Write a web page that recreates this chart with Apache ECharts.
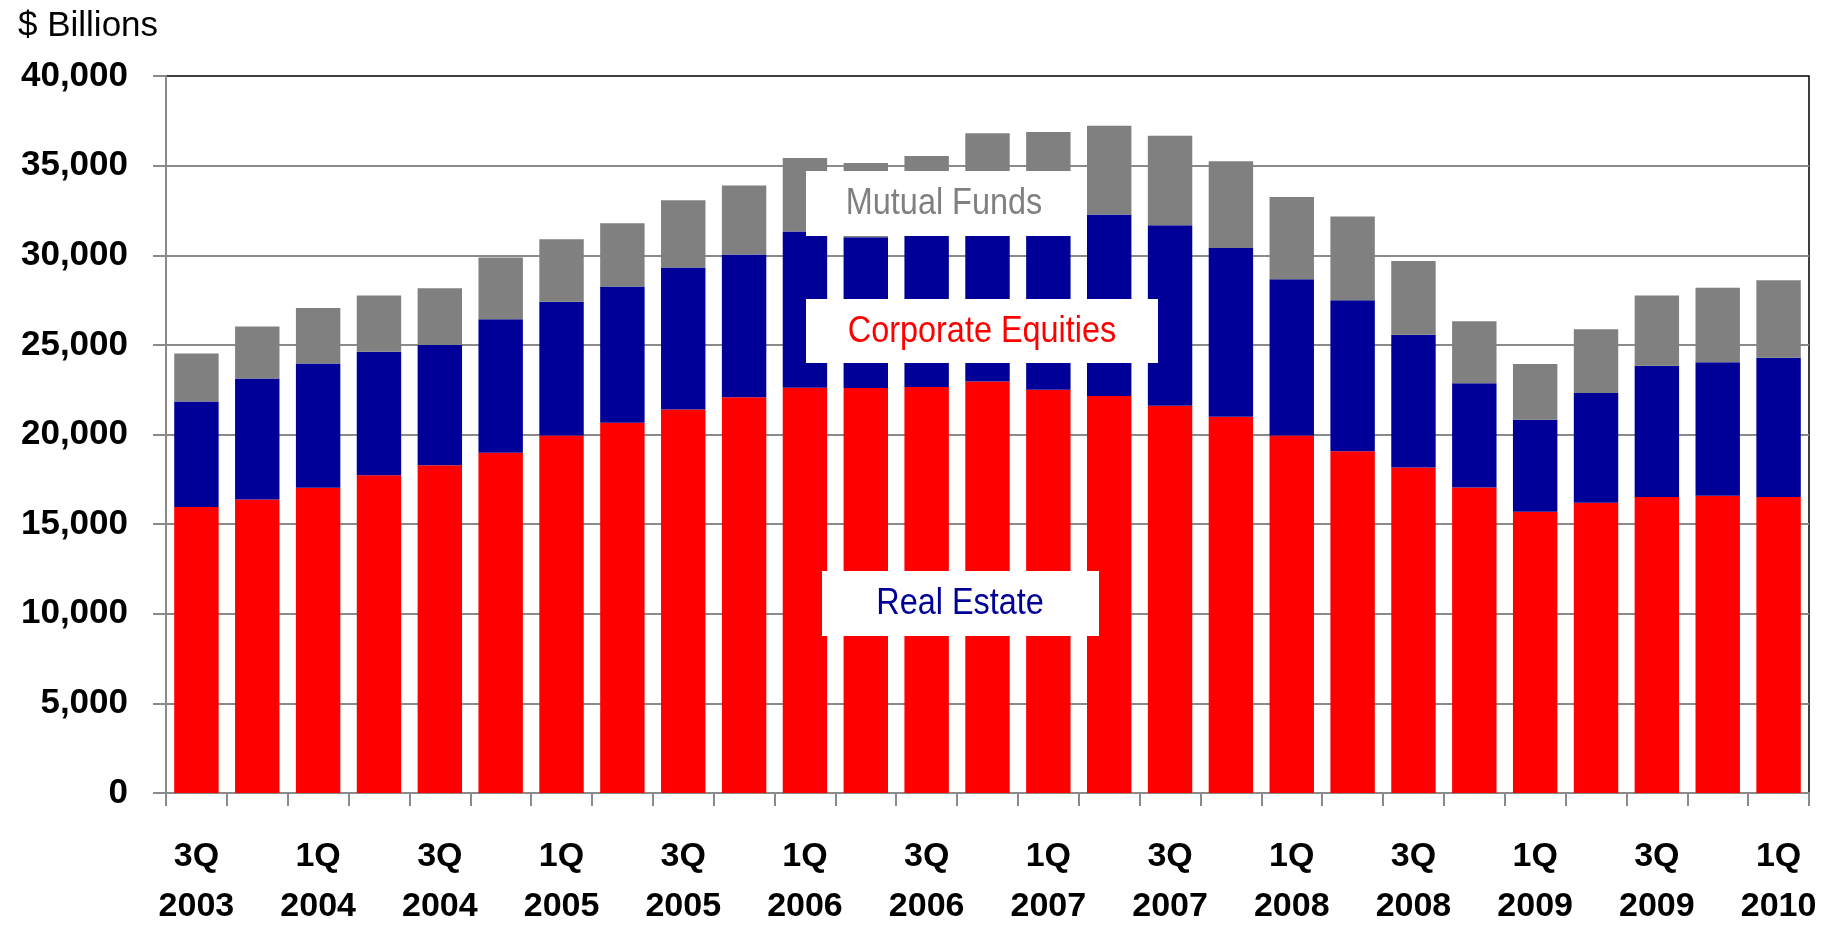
<!DOCTYPE html>
<html>
<head>
<meta charset="utf-8">
<title>Household Assets</title>
<script src="https://cdn.jsdelivr.net/npm/echarts@6/dist/echarts.min.js"></script>
<style>
  html, body { margin: 0; padding: 0; background: #fff; }
  #chart { width: 1841px; height: 926px; }
</style>
</head>
<body>
<div id="chart"></div>
<script>
// Quarters shown along the x axis
const quarters = [
  '3Q 2003', '4Q 2003',
  '1Q 2004', '2Q 2004', '3Q 2004', '4Q 2004',
  '1Q 2005', '2Q 2005', '3Q 2005', '4Q 2005',
  '1Q 2006', '2Q 2006', '3Q 2006', '4Q 2006',
  '1Q 2007', '2Q 2007', '3Q 2007', '4Q 2007',
  '1Q 2008', '2Q 2008', '3Q 2008', '4Q 2008',
  '1Q 2009', '2Q 2009', '3Q 2009', '4Q 2009',
  '1Q 2010'
];

// $ billions, stacked from the bottom up
const realEstate = [
  15950, 16380,
  17030, 17730, 18290, 18980,
  19940, 20650, 21390, 22080,
  22610, 22600, 22650, 22950,
  22490, 22150, 21600, 20990,
  19940, 19070, 18160, 17050,
  15690, 16190, 16520, 16580,
  16510
];
const corporateEquities = [
  5890, 6740,
  6930, 6880, 6710, 7450,
  7460, 7600, 7920, 7960,
  8720, 8400, 8650, 9350,
  9710, 10120, 10080, 9420,
  8720, 8420, 7400, 5810,
  5130, 6130, 7310, 7450,
  7770
];
const mutualFunds = [
  2680, 2910,
  3100, 3140, 3160, 3440,
  3490, 3530, 3760, 3850,
  4090, 4150, 4240, 4500,
  4680, 4960, 4990, 4830,
  4590, 4670, 4120, 3460,
  3120, 3550, 3920, 4150,
  4330
];

const yTicks = { min: 0, max: 40000, interval: 5000 };

const FONT = "'Liberation Sans', Arial, sans-serif";
const AXIS_GREY = '#8a8a8a';

const chart = echarts.init(document.getElementById('chart'), null, { renderer: 'canvas' });

function barSeries(name, data, color) {
  return {
    name: name,
    type: 'bar',
    stack: 'assets',
    data: data,
    barCategoryGap: '27%',
    itemStyle: { color: color },
    emphasis: { disabled: true }
  };
}

// Boxed series captions drawn on top of the bars (text squeezed to a narrow face)
function caption(text, box, cx, cy, color) {
  return [
    { type: 'rect', z: 100, shape: box, style: { fill: '#ffffff' } },
    {
      type: 'text', z: 101, x: cx, y: cy, scaleX: 0.9,
      style: {
        text: text, fill: color, fontFamily: FONT, fontSize: 36,
        align: 'center', verticalAlign: 'middle'
      }
    }
  ];
}

chart.setOption({
  animation: false,
  backgroundColor: '#ffffff',
  title: {
    text: '$ Billions',
    left: 13, top: 4,
    textStyle: { fontFamily: FONT, fontSize: 35, fontWeight: 'normal', color: '#000' }
  },
  grid: {
    left: 166, right: 32, top: 76, bottom: 133,
    show: true, borderColor: '#000', borderWidth: 1.5,
    containLabel: false,
    outerBoundsMode: 'none'
  },
  xAxis: {
    type: 'category',
    data: quarters,
    axisLine: { lineStyle: { color: AXIS_GREY, width: 2 } },
    axisTick: { show: true, interval: 0, length: 13, alignWithLabel: false,
                lineStyle: { color: AXIS_GREY, width: 2 } },
    axisLabel: {
      interval: 1,
      margin: 39,
      color: '#000',
      fontFamily: FONT,
      fontSize: 34,
      fontWeight: 'bold',
      lineHeight: 50,
      formatter: v => v.replace(' ', '\n')
    },
    splitLine: { show: false }
  },
  yAxis: {
    type: 'value',
    min: yTicks.min, max: yTicks.max, interval: yTicks.interval,
    axisLine: { show: true, lineStyle: { color: AXIS_GREY, width: 2 } },
    axisTick: { show: true, length: 13, lineStyle: { color: AXIS_GREY, width: 2 } },
    axisLabel: {
      margin: 38,
      color: '#000',
      fontFamily: FONT,
      fontSize: 35,
      fontWeight: 'bold',
      formatter: v => v.toLocaleString('en-US')
    },
    splitLine: { show: true, showMaxLine: false,
                 lineStyle: { color: AXIS_GREY, width: 2 } }
  },
  series: [
    barSeries('Real Estate', realEstate, '#ff0000'),
    barSeries('Corporate Equities', corporateEquities, '#000099'),
    barSeries('Mutual Funds', mutualFunds, '#808080')
  ],
  graphic: [].concat(
    caption('Mutual Funds', { x: 806, y: 171, width: 265, height: 65 }, 944, 204, '#808080'),
    caption('Corporate Equities', { x: 806, y: 299, width: 352, height: 64 }, 982, 332, '#ff0000'),
    caption('Real Estate', { x: 822, y: 571, width: 277, height: 65 }, 960, 604, '#000099')
  )
});
</script>
</body>
</html>
